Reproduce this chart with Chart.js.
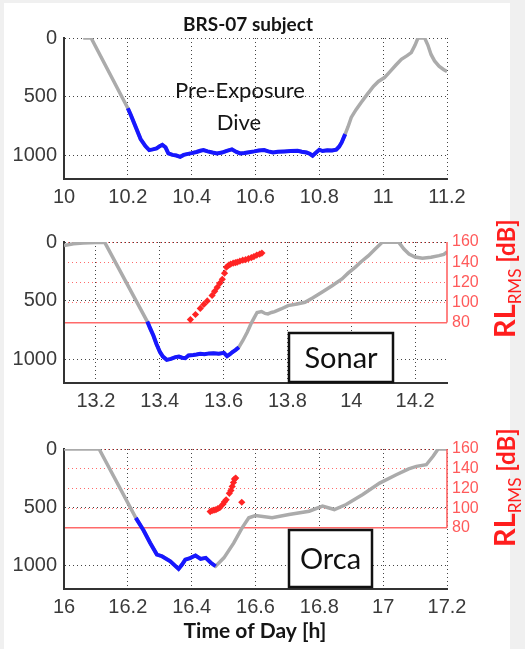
<!DOCTYPE html>
<html>
<head>
<meta charset="utf-8">
<script src="https://cdn.jsdelivr.net/npm/chart.js@4.4.1/dist/chart.umd.min.js"></script>
<style>
  body { margin: 0; background: #f0f0f0; }
  .page { position: absolute; left: 4px; top: 3px; width: 506px; height: 646px; background: #fff; }
  .panel { position: absolute; left: 0; width: 525px; }
  canvas { display: block; }
</style>
</head>
<body>
<div class="page"></div>
<div class="panel" style="top:0"><canvas id="p1" width="525" height="210"></canvas></div>
<div class="panel" style="top:210px"><canvas id="p2" width="525" height="220"></canvas></div>
<div class="panel" style="top:420px"><canvas id="p3" width="525" height="229"></canvas></div>
<script>
const depthTicks = [0, 500, 1000];
const rlTicks = [80, 100, 120, 140, 160];

// pre-exposure dive
const p1Ticks = [10, 10.2, 10.4, 10.6, 10.8, 11, 11.2];
const p1Time = [10.06, 10.085, 10.2, 10.21, 10.225, 10.24, 10.255, 10.267, 10.278, 10.29, 10.3, 10.308, 10.318, 10.327, 10.34, 10.352, 10.364, 10.375, 10.385, 10.4, 10.415, 10.427, 10.437, 10.45, 10.465, 10.479, 10.495, 10.51, 10.526, 10.54, 10.552, 10.565, 10.58, 10.596, 10.61, 10.627, 10.64, 10.655, 10.67, 10.69, 10.71, 10.732, 10.745, 10.76, 10.77, 10.779, 10.79, 10.8, 10.81, 10.825, 10.84, 10.853, 10.862, 10.87, 10.881, 10.89, 10.9, 10.915, 10.931, 10.95, 10.97, 10.985, 11.004, 11.02, 11.04, 11.057, 11.075, 11.088, 11.1, 11.109, 11.13, 11.14, 11.15, 11.161, 11.175, 11.19, 11.2];
const p1Depth = [0, 0, 598, 660, 760, 860, 920, 954, 948, 940, 920, 909, 930, 982, 995, 1000, 1011, 995, 988, 980, 970, 960, 954, 965, 975, 982, 975, 960, 948, 970, 982, 978, 972, 965, 958, 954, 965, 975, 968, 965, 962, 960, 968, 975, 985, 1002, 975, 951, 962, 955, 958, 951, 925, 889, 818, 755, 676, 610, 549, 480, 410, 370, 337, 290, 230, 181, 150, 124, 60, 0, 0, 60, 140, 195, 240, 270, 285];
const p1Blue = [10.2, 10.881];

// sonar exposure
const p2Ticks = [13.2, 13.4, 13.6, 13.8, 14, 14.2];
const p2Time = [13.1, 13.13, 13.16, 13.2, 13.228, 13.361, 13.37, 13.38, 13.39, 13.401, 13.41, 13.422, 13.435, 13.449, 13.46, 13.47, 13.48, 13.49, 13.505, 13.515, 13.527, 13.54, 13.555, 13.569, 13.585, 13.601, 13.611, 13.62, 13.627, 13.638, 13.648, 13.66, 13.674, 13.687, 13.697, 13.705, 13.719, 13.73, 13.739, 13.75, 13.76, 13.78, 13.802, 13.83, 13.855, 13.88, 13.908, 13.94, 13.971, 13.99, 14.012, 14.03, 14.054, 14.075, 14.097, 14.12, 14.149, 14.165, 14.181, 14.2, 14.223, 14.25, 14.275, 14.29, 14.3];
const p2Depth = [30, 15, 8, 5, 5, 677, 735, 796, 870, 938, 975, 1003, 995, 980, 975, 985, 989, 966, 962, 958, 952, 955, 948, 946, 950, 943, 972, 955, 938, 918, 895, 840, 768, 690, 640, 600, 592, 608, 612, 600, 592, 570, 541, 528, 513, 475, 428, 372, 314, 265, 216, 170, 116, 60, 3, 0, 3, 60, 102, 128, 139, 130, 116, 105, 85];
const p2Blue = [13.361, 13.648];
const p2RlTime = [13.496, 13.512, 13.527, 13.538, 13.549, 13.564, 13.572, 13.58, 13.588, 13.596, 13.603, 13.609, 13.616, 13.622, 13.63, 13.637, 13.643, 13.651, 13.66, 13.669, 13.678, 13.687, 13.695, 13.704, 13.713, 13.72];
const p2RlLevel = [83, 88, 94, 98, 101.5, 107, 111, 115, 119, 123, 129, 135, 137, 138, 139, 139.5, 140, 141, 142, 142.5, 143.5, 144.5, 145.5, 147, 148, 149];

// orca playback
const p3Ticks = [16, 16.2, 16.4, 16.6, 16.8, 17, 17.2];
const p3Time = [16, 16.11, 16.225, 16.249, 16.27, 16.291, 16.307, 16.333, 16.359, 16.37, 16.38, 16.395, 16.412, 16.428, 16.444, 16.46, 16.475, 16.501, 16.532, 16.558, 16.579, 16.6, 16.652, 16.705, 16.768, 16.81, 16.847, 16.884, 16.936, 16.989, 17.041, 17.08, 17.104, 17.135, 17.157, 17.172, 17.2];
const p3Depth = [0, 0, 590, 696, 805, 905, 919, 962, 1028, 990, 948, 935, 913, 942, 933, 975, 1005, 933, 805, 676, 590, 570, 590, 562, 533, 490, 519, 476, 390, 292, 221, 170, 149, 135, 60, 0, 0];
const p3Blue = [16.225, 16.475];
const p3RlTime = [16.458, 16.464, 16.47, 16.476, 16.482, 16.488, 16.498, 16.503, 16.508, 16.518, 16.523, 16.527, 16.531, 16.534, 16.538, 16.557];
const p3RlLevel = [96.5, 97.5, 98, 98.5, 99.5, 100.5, 104, 106.5, 108.5, 115, 118, 122, 126, 129.5, 130.5, 106];

const tickFont = { family: 'Liberation Sans', size: 20 };
const tickColor = '#3a3a3a';
const rlColor = '#ff5a5a';
const labelFont = 'Lato';

const noPad = (s) => {
  s.paddingTop = 0;
  s.paddingBottom = 0;
  s.paddingLeft = 0;
  s.paddingRight = 0;
};

const drawRlLabel = (ctx, x, yBottom) => {
  ctx.save();
  ctx.translate(x, yBottom);
  ctx.rotate(-Math.PI / 2);
  ctx.fillStyle = '#ff1e1e';
  ctx.textAlign = 'left';
  ctx.font = `bold 29px ${labelFont}`;
  ctx.fillText('RL', 0, 0);
  let w = ctx.measureText('RL').width;
  ctx.font = `17px ${labelFont}`;
  ctx.fillText('RMS', w, 6);
  w += ctx.measureText('RMS').width + 6;
  ctx.font = `bold 24px ${labelFont}`;
  ctx.fillText('[dB]', w, 0);
  ctx.restore();
};

const drawBox = (ctx, label, x, y, w, h) => {
  ctx.save();
  ctx.fillStyle = '#fff';
  ctx.fillRect(x, y, w, h);
  ctx.lineWidth = 2.5;
  ctx.strokeStyle = '#111';
  ctx.strokeRect(x, y, w, h);
  ctx.font = `29px ${labelFont}`;
  ctx.fillStyle = '#111';
  ctx.textAlign = 'center';
  ctx.textBaseline = 'middle';
  ctx.fillText(label, x + w / 2, y + h / 2 + 1);
  ctx.restore();
};

const drawText = (ctx, text, x, y, font) => {
  ctx.save();
  ctx.font = font;
  ctx.fillStyle = '#151515';
  ctx.textAlign = 'center';
  ctx.fillText(text, x, y);
  ctx.restore();
};

const makePanel = ({ id, xRange, xTicks, time, depth, blue, rlTime, rlLevel, rlMin, top, xHeight, overlay }) => {
  const pts = time.map((t, i) => ({ x: t, y: depth[i] }));
  const bluePts = pts.filter((p) => p.x >= blue[0] && p.x <= blue[1]);

  const datasets = [];
  if (rlTime) {
    datasets.push({
      data: rlTime.map((t, i) => ({ x: t, y: rlLevel[i] })),
      yAxisID: 'y2',
      pointStyle: 'rectRot',
      pointRadius: 3.6,
      backgroundColor: '#ff2424',
      borderWidth: 0,
      showLine: false
    });
  }
  datasets.push({ data: bluePts, yAxisID: 'y', borderColor: '#1717ff', borderWidth: 4, pointRadius: 0, showLine: true });
  datasets.push({ data: pts, yAxisID: 'y', borderColor: '#ababab', borderWidth: 3.5, pointRadius: 0, showLine: true });

  const scales = {
    x: {
      type: 'linear',
      min: xRange[0],
      max: xRange[1],
      afterBuildTicks: (s) => { s.ticks = xTicks.map((v) => ({ value: v })); },
      afterFit: (s) => { s.height = xHeight; noPad(s); },
      ticks: { font: tickFont, color: tickColor, padding: 6, maxRotation: 0, callback: (v) => String(v) },
      grid: { color: '#444', lineWidth: 1, drawTicks: false },
      border: { color: '#333', width: 2, dash: [1, 3] }
    },
    y: {
      type: 'linear',
      reverse: true,
      min: 0,
      max: 1200,
      afterBuildTicks: (s) => { s.ticks = depthTicks.map((v) => ({ value: v })); },
      afterFit: (s) => { s.width = 64; noPad(s); },
      ticks: { font: tickFont, color: tickColor, padding: 7, callback: (v) => String(v) },
      grid: { color: '#444', lineWidth: 1, drawTicks: false },
      border: { color: '#333', width: 2, dash: [1, 3] }
    }
  };
  if (rlTime) {
    scales.y2 = {
      type: 'linear',
      position: 'right',
      min: rlMin,
      max: 160,
      afterBuildTicks: (s) => { s.ticks = rlTicks.map((v) => ({ value: v })); },
      afterFit: (s) => { s.width = 78; noPad(s); },
      ticks: { font: { family: 'Liberation Sans', size: 16 }, color: rlColor, padding: 5, callback: (v) => String(v) },
      grid: {
        color: '#ff6a6a',
        lineWidth: (c) => (c.tick && c.tick.value === 80 ? 1.5 : 1),
        drawTicks: false
      },
      border: { display: false, dash: (c) => (c.tick && c.tick.value === 80 ? [] : [1, 3]) }
    };
  }

  new Chart(document.getElementById(id), {
    type: 'scatter',
    data: { datasets },
    options: {
      responsive: false,
      animation: false,
      devicePixelRatio: 1,
      layout: { padding: { top, left: 0, right: rlTime ? 0 : 78, bottom: 0 } },
      plugins: { legend: { display: false }, tooltip: { enabled: false } },
      scales
    },
    plugins: [{
      id: 'overlay',
      afterDraw: (chart) => {
        const ctx = chart.ctx;
        if (rlTime) {
          const y2 = chart.scales.y2;
          const right = chart.chartArea.right;
          ctx.save();
          ctx.strokeStyle = rlColor;
          ctx.lineWidth = 1.5;
          ctx.beginPath();
          ctx.moveTo(right, y2.getPixelForValue(80));
          ctx.lineTo(right, y2.getPixelForValue(160));
          ctx.stroke();
          ctx.restore();
        }
        overlay(ctx, chart);
      }
    }]
  });
};

makePanel({
  id: 'p1', xRange: [10, 11.2], xTicks: p1Ticks, time: p1Time, depth: p1Depth, blue: p1Blue,
  top: 38, xHeight: 31,
  overlay: (ctx) => {
    drawText(ctx, 'BRS-07 subject', 248, 31, `bold 19px ${labelFont}`);
    drawText(ctx, 'Pre-Exposure', 240, 98, `22px ${labelFont}`);
    drawText(ctx, 'Dive', 239, 130, `22px ${labelFont}`);
  }
});

makePanel({
  id: 'p2', xRange: [13.1, 14.3], xTicks: p2Ticks, time: p2Time, depth: p2Depth, blue: p2Blue,
  rlTime: p2RlTime, rlLevel: p2RlLevel, rlMin: 20, top: 32, xHeight: 47,
  overlay: (ctx) => {
    drawBox(ctx, 'Sonar', 289, 123, 104, 49);
    drawRlLabel(ctx, 515, 128);
  }
});

makePanel({
  id: 'p3', xRange: [16, 17.2], xTicks: p3Ticks, time: p3Time, depth: p3Depth, blue: p3Blue,
  rlTime: p3RlTime, rlLevel: p3RlLevel, rlMin: 18, top: 29, xHeight: 60,
  overlay: (ctx) => {
    drawBox(ctx, 'Orca', 289, 110, 83, 57);
    drawRlLabel(ctx, 515, 127);
    drawText(ctx, 'Time of Day [h]', 255, 218, `bold 21px ${labelFont}`);
  }
});
</script>
</body>
</html>
